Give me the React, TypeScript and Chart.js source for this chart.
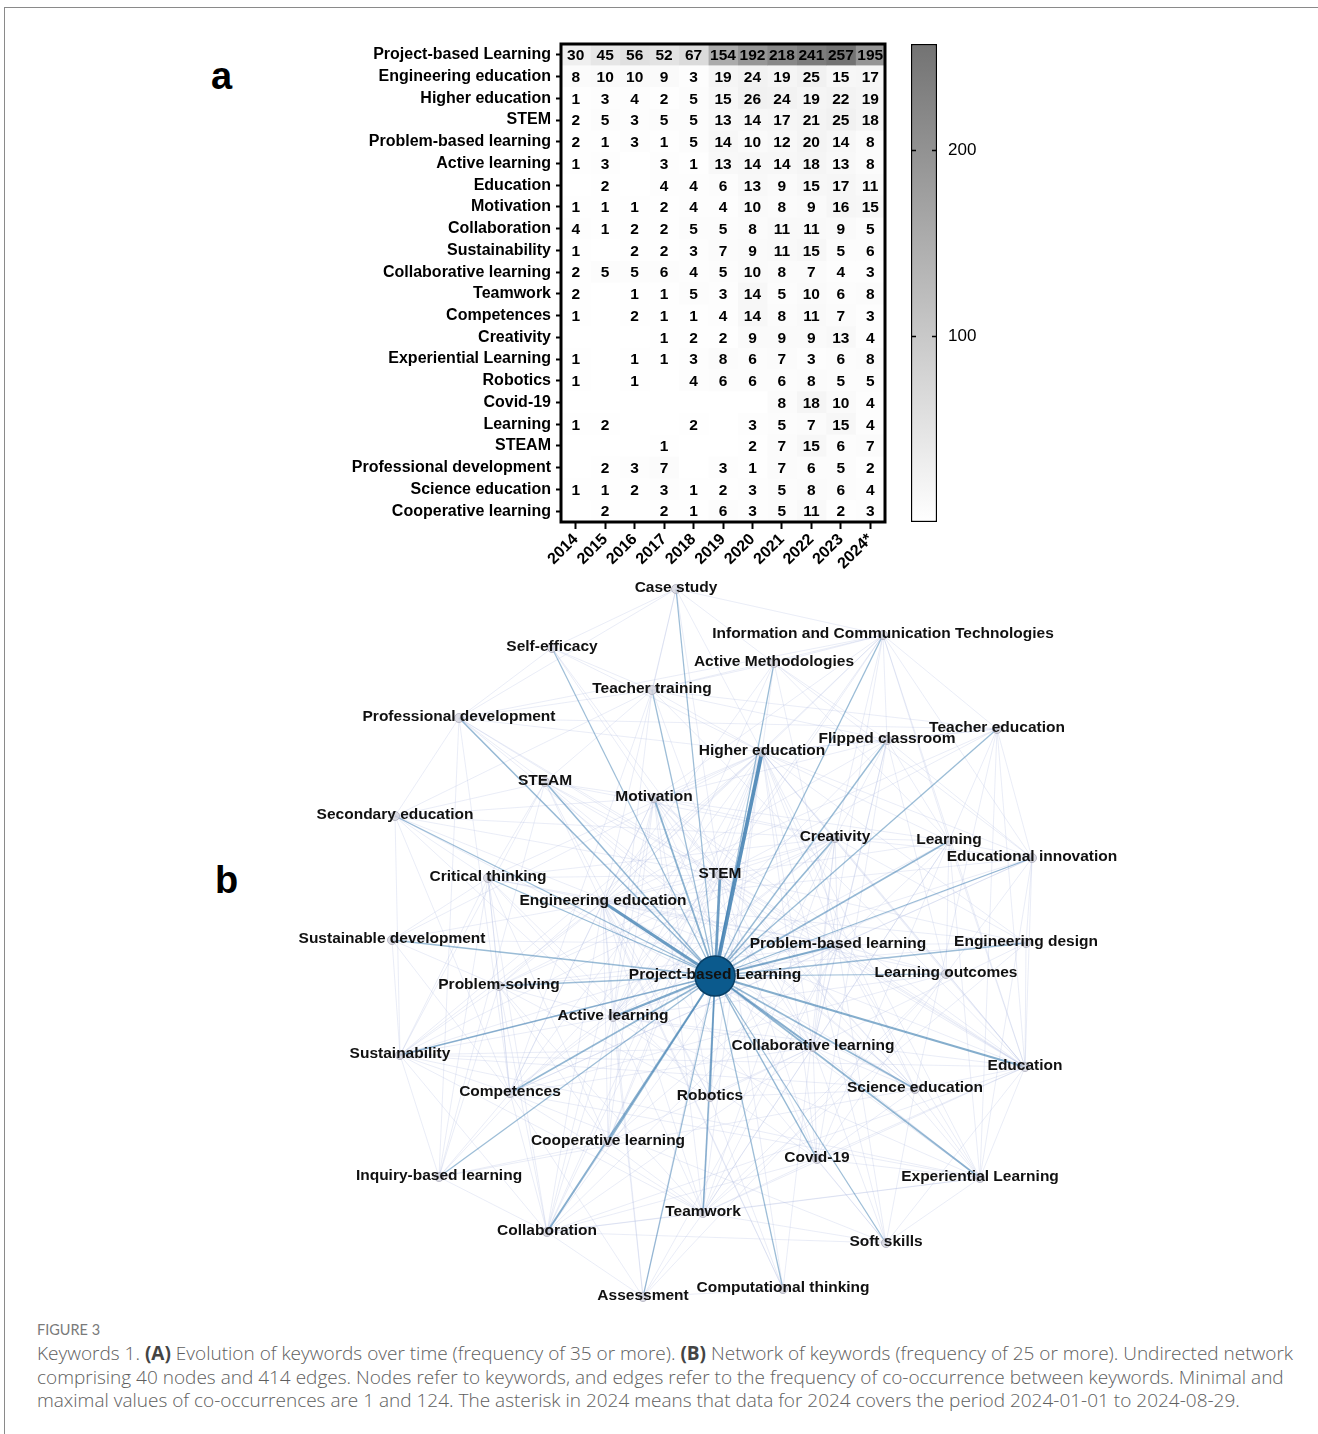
import React, { useEffect, useRef } from 'react';
import { Chart, registerables } from 'chart.js';

Chart.register(...registerables);

const FONT = '"Liberation Sans", Arial, Helvetica, sans-serif';

// ---------- Panel A: heatmap data ----------
const YEARS = ['2014', '2015', '2016', '2017', '2018', '2019', '2020', '2021', '2022', '2023', '2024*'];
const KEYWORDS = [
  'Project-based Learning', 'Engineering education', 'Higher education', 'STEM',
  'Problem-based learning', 'Active learning', 'Education', 'Motivation', 'Collaboration',
  'Sustainability', 'Collaborative learning', 'Teamwork', 'Competences', 'Creativity',
  'Experiential Learning', 'Robotics', 'Covid-19', 'Learning', 'STEAM',
  'Professional development', 'Science education', 'Cooperative learning',
];
const _ = null;
const HEAT_ROWS: (number | null)[][] = [
  [30, 45, 56, 52, 67, 154, 192, 218, 241, 257, 195],
  [8, 10, 10, 9, 3, 19, 24, 19, 25, 15, 17],
  [1, 3, 4, 2, 5, 15, 26, 24, 19, 22, 19],
  [2, 5, 3, 5, 5, 13, 14, 17, 21, 25, 18],
  [2, 1, 3, 1, 5, 14, 10, 12, 20, 14, 8],
  [1, 3, _, 3, 1, 13, 14, 14, 18, 13, 8],
  [_, 2, _, 4, 4, 6, 13, 9, 15, 17, 11],
  [1, 1, 1, 2, 4, 4, 10, 8, 9, 16, 15],
  [4, 1, 2, 2, 5, 5, 8, 11, 11, 9, 5],
  [1, _, 2, 2, 3, 7, 9, 11, 15, 5, 6],
  [2, 5, 5, 6, 4, 5, 10, 8, 7, 4, 3],
  [2, _, 1, 1, 5, 3, 14, 5, 10, 6, 8],
  [1, _, 2, 1, 1, 4, 14, 8, 11, 7, 3],
  [_, _, _, 1, 2, 2, 9, 9, 9, 13, 4],
  [1, _, 1, 1, 3, 8, 6, 7, 3, 6, 8],
  [1, _, 1, _, 4, 6, 6, 6, 8, 5, 5],
  [_, _, _, _, _, _, _, 8, 18, 10, 4],
  [1, 2, _, _, 2, _, 3, 5, 7, 15, 4],
  [_, _, _, 1, _, _, 2, 7, 15, 6, 7],
  [_, 2, 3, 7, _, 3, 1, 7, 6, 5, 2],
  [1, 1, 2, 3, 1, 2, 3, 5, 8, 6, 4],
  [_, 2, _, 2, 1, 6, 3, 5, 11, 2, 3],
];
const CB_MIN = 0;
const CB_MAX = 257;
const CB_TICKS = [100, 200];

// ---------- Panel B: network data ----------
const NODE_KEYS = ['cs', 'se', 'ict', 'am', 'tt', 'pd', 'he', 'fc', 'te', 'steam', 'mot', 'sec', 'cre', 'lea', 'ei', 'stem', 'ct', 'ee', 'sd', 'pbl2', 'ed', 'pbl', 'ps', 'lo', 'al', 'cl', 'sus', 'edu', 'sci', 'comp', 'rob', 'coop', 'cov', 'ibl', 'exp', 'tw', 'col', 'ss', 'as', 'cmp'];
const NODE_LABELS = ['Case study', 'Self-efficacy', 'Information and Communication Technologies', 'Active Methodologies', 'Teacher training', 'Professional development', 'Higher education', 'Flipped classroom', 'Teacher education', 'STEAM', 'Motivation', 'Secondary education', 'Creativity', 'Learning', 'Educational innovation', 'STEM', 'Critical thinking', 'Engineering education', 'Sustainable development', 'Problem-based learning', 'Engineering design', 'Project-based Learning', 'Problem-solving', 'Learning outcomes', 'Active learning', 'Collaborative learning', 'Sustainability', 'Education', 'Science education', 'Competences', 'Robotics', 'Cooperative learning', 'Covid-19', 'Inquiry-based learning', 'Experiential Learning', 'Teamwork', 'Collaboration', 'Soft skills', 'Assessment', 'Computational thinking'];
const NODE_X = [676, 552, 883, 774, 652, 459, 762, 887, 997, 545, 654, 395, 835, 949, 1032, 720, 488, 603, 392, 838, 1026, 715, 499, 946, 613, 813, 400, 1025, 915, 510, 710, 608, 817, 439, 980, 703, 547, 886, 643, 783];
const NODE_Y = [589, 648, 635, 663, 690, 718, 752, 740, 729, 782, 798, 816, 838, 841, 858, 875, 878, 902, 940, 945, 943, 976, 986, 974, 1017, 1047, 1055, 1067, 1089, 1093, 1097, 1142, 1159, 1177, 1178, 1213, 1232, 1243, 1297, 1289];
const HUB_KEY = 'pbl';
// co-occurrence with Project-based Learning (estimated), same order as NODE_KEYS
const HUB_WEIGHTS = [20, 18, 22, 22, 20, 30, 124, 25, 22, 30, 45, 20, 35, 30, 22, 85, 22, 95, 22, 55, 20, 0, 20, 18, 65, 50, 40, 55, 30, 35, 30, 35, 30, 20, 35, 35, 50, 20, 18, 20];
// weaker links between other keywords
const OTHER_LINKS: [string, string[]][] = [
  ['he', ['stem', 'ee', 'al', 'pbl2', 'cl', 'mot', 'comp', 'fc', 'am', 'tt', 'ict', 'cs', 'se', 'cre', 'lea', 'ei', 'tw', 'col', 'sus', 'edu', 'cov', 'exp', 'lo', 'ps', 'ct', 'sd', 'coop', 'sci', 'te', 'pd', 'as', 'ss', 'ed', 'rob']],
  ['ee', ['stem', 'al', 'pbl2', 'cl', 'mot', 'comp', 'ed', 'lo', 'tw', 'col', 'sus', 'sd', 'ct', 'ps', 'cre', 'exp', 'cmp', 'rob', 'sci', 'cs', 'as', 'ss', 'ei', 'fc', 'am', 'te', 'ict', 'coop']],
  ['stem', ['steam', 'rob', 'cmp', 'sci', 'edu', 'ed', 'cre', 'mot', 'tt', 'pd', 'sec', 'te', 'ict', 'ibl', 'ct', 'ps', 'cl', 'al', 'col', 'tw', 'coop', 'pbl2', 'lea', 'cov', 'exp', 'se', 'cs']],
  ['al', ['pbl2', 'cl', 'mot', 'comp', 'fc', 'am', 'cre', 'lea', 'ei', 'tw', 'col', 'sus', 'coop', 'cov', 'exp', 'ps', 'ct', 'lo', 'ict', 'tt', 'edu', 'as', 'sec']],
  ['pbl2', ['cl', 'mot', 'comp', 'cre', 'lea', 'tw', 'col', 'lo', 'exp', 'ed', 'sus', 'ps', 'ct', 'sd', 'sci', 'ei', 'coop', 'fc', 'am', 'ss', 'as', 'edu']],
  ['cl', ['coop', 'col', 'tw', 'mot', 'comp', 'cre', 'ict', 'fc', 'cov', 'exp', 'ss', 'lea', 'sci', 'sus', 'steam']],
  ['mot', ['cre', 'tw', 'col', 'comp', 'se', 'fc', 'lea', 'edu', 'coop', 'rob', 'steam', 'sci', 'cov', 'ict', 'sec']],
  ['edu', ['sci', 'steam', 'cre', 'tw', 'col', 'ict', 'sus', 'lea', 'exp', 'ss', 'sec', 'te', 'pd', 'tt', 'ei', 'cov', 'ed', 'lo']],
  ['col', ['tw', 'comp', 'coop', 'cre', 'sus', 'ss', 'cov', 'exp', 'ps', 'ct', 'ibl', 'as']],
  ['sus', ['sd', 'comp', 'ps', 'ct', 'ibl', 'cre', 'sec', 'tw', 'exp', 'ei', 'steam', 'sci']],
  ['comp', ['ps', 'ct', 'sd', 'tw', 'cre', 'lo', 'ss', 'tt', 'pd', 'exp', 'ei', 'as', 'ibl', 'sec']],
  ['cre', ['ps', 'ct', 'rob', 'steam', 'tw', 'lea', 'ei', 'cmp', 'ict', 'fc', 'sec', 'ed']],
  ['rob', ['cmp', 'steam', 'sci', 'tw', 'ps', 'ed', 'ct']],
  ['steam', ['sci', 'cmp', 'ct', 'pd', 'sec', 'tt', 'ibl']],
  ['lea', ['ei', 'exp', 'tw', 'cov', 'lo', 'ict', 'fc', 'am', 'te']],
  ['tw', ['ss', 'exp', 'cov', 'ps', 'coop', 'lo', 'as', 'ed']],
  ['exp', ['sci', 'ss', 'cov', 'ei', 'te']],
  ['pd', ['tt', 'te', 'sec', 'se', 'cs', 'ict', 'ibl', 'sci']],
  ['tt', ['te', 'se', 'cs', 'ict', 'am', 'fc', 'sec']],
  ['fc', ['am', 'ict', 'cov', 'ei', 'te', 'lo']],
  ['ict', ['am', 'ei', 'te', 'cs']],
  ['ei', ['am', 'te', 'ed', 'lo']],
  ['sci', ['ibl', 'ss', 'cov', 'sec', 'te']],
  ['coop', ['ps', 'ibl', 'ct']],
  ['ps', ['ct', 'sd', 'ibl', 'ed']],
  ['ct', ['sd', 'sec', 'ibl']],
  ['cov', ['ss', 'lo']],
  ['cs', ['se', 'am']],
  ['as', ['lo', 'cmp']],
];
const MAX_COOC = 124;

// ---------- helpers ----------
const cellColor = (v: number | null) => {
  if (v == null) return '#ffffff';
  const g = Math.round(255 - (v / CB_MAX) * 140);
  return `rgb(${g},${g},${g})`;
};
const fixBox = (w?: number, h?: number) => (s: any) => {
  if (w !== undefined) s.width = w;
  if (h !== undefined) s.height = h;
  s.paddingLeft = 0;
  s.paddingRight = 0;
  s.paddingTop = 0;
  s.paddingBottom = 0;
};

function useChart(make: (c: HTMLCanvasElement) => Chart) {
  const ref = useRef<HTMLCanvasElement>(null);
  useEffect(() => {
    if (!ref.current) return;
    const chart = make(ref.current);
    return () => chart.destroy();
  }, []);
  return ref;
}

// ---------- Heatmap ----------
const HM_LEFT = 300, HM_TOP = 0, HM_W = 620, HM_H = 600;

function Heatmap() {
  const ref = useChart((canvas) => {
    const datasets = YEARS.map((yr, j) => ({
      label: yr,
      data: KEYWORDS.map(() => [j - 0.5, j + 0.5]),
      backgroundColor: HEAT_ROWS.map((r) => cellColor(r[j])),
      borderWidth: 0,
      barPercentage: 1,
      categoryPercentage: 1,
      grouped: false,
    }));
    const textPlugin = {
      id: 'cellText',
      afterDatasetsDraw(chart: any) {
        const ctx = chart.ctx;
        ctx.save();
        ctx.font = `bold 15.5px ${FONT}`;
        ctx.textAlign = 'center';
        ctx.textBaseline = 'middle';
        ctx.fillStyle = '#000';
        chart.data.datasets.forEach((_ds: any, j: number) => {
          const meta = chart.getDatasetMeta(j);
          meta.data.forEach((el: any, i: number) => {
            const v = HEAT_ROWS[i][j];
            if (v == null) return;
            const p = el.getProps(['x', 'y', 'base'], true);
            ctx.fillText(String(v), (p.x + p.base) / 2, p.y + 1);
          });
        });
        const a = chart.chartArea;
        ctx.lineWidth = 3;
        ctx.strokeStyle = '#000';
        ctx.strokeRect(a.left, a.top, a.right - a.left, a.bottom - a.top);
        ctx.restore();
      },
    };
    return new Chart(canvas, {
      type: 'bar',
      data: { labels: KEYWORDS, datasets: datasets as any },
      options: {
        indexAxis: 'y',
        responsive: false,
        animation: false,
        events: [],
        layout: { padding: { left: 0, right: 35, top: 44, bottom: 0 } },
        plugins: { legend: { display: false }, tooltip: { enabled: false } },
        scales: {
          x: {
            type: 'linear',
            min: -0.5,
            max: YEARS.length - 0.5,
            afterBuildTicks: (s: any) => { s.ticks = YEARS.map((_y, j) => ({ value: j })); },
            afterFit: fixBox(undefined, 78),
            ticks: {
              autoSkip: false,
              minRotation: 45,
              maxRotation: 45,
              padding: 1,
              color: '#000',
              font: { family: FONT, size: 16, weight: 'bold' },
              callback: (v: any) => YEARS[v as number],
            },
            grid: { drawOnChartArea: false, drawTicks: true, tickLength: 7, tickWidth: 2, tickColor: '#000', offset: false },
            border: { display: false },
          },
          y: {
            type: 'category',
            afterFit: fixBox(261, undefined),
            ticks: { autoSkip: false, padding: 5, color: '#000', font: { family: FONT, size: 16, weight: 'bold' } },
            grid: { drawOnChartArea: false, drawTicks: true, tickLength: 5, tickWidth: 2, tickColor: '#000', offset: false },
            border: { display: false },
          },
        },
      } as any,
      plugins: [textPlugin],
    });
  });
  return <canvas ref={ref} width={HM_W} height={HM_H} style={{ position: 'absolute', left: HM_LEFT, top: HM_TOP, width: HM_W, height: HM_H }} />;
}

// ---------- Colorbar ----------
const CB_LEFT = 900, CB_W = 110, CB_H = 600;

function Colorbar() {
  const ref = useChart((canvas) => {
    const tickPlugin = {
      id: 'cbTicks',
      afterDatasetsDraw(chart: any) {
        const ctx = chart.ctx;
        const a = chart.chartArea;
        const ys = chart.scales.y;
        ctx.save();
        ctx.strokeStyle = '#000';
        ctx.lineWidth = 1.5;
        CB_TICKS.forEach((v) => {
          const y = Math.round(ys.getPixelForValue(v)) + 0.5;
          ctx.beginPath();
          ctx.moveTo(a.left, y); ctx.lineTo(a.left + 5, y);
          ctx.moveTo(a.right - 5, y); ctx.lineTo(a.right, y);
          ctx.stroke();
        });
        ctx.restore();
      },
    };
    return new Chart(canvas, {
      type: 'bar',
      data: {
        labels: [''],
        datasets: [{
          data: [[CB_MIN, CB_MAX]],
          backgroundColor: (c: any) => {
            const ca = c.chart.chartArea;
            if (!ca) return '#fff';
            const ys = c.chart.scales.y;
            const g = c.chart.ctx.createLinearGradient(0, ys.getPixelForValue(CB_MIN), 0, ys.getPixelForValue(CB_MAX));
            g.addColorStop(0, cellColor(CB_MIN));
            g.addColorStop(1, cellColor(CB_MAX));
            return g;
          },
          borderColor: '#000',
          borderWidth: 1.5,
          borderSkipped: false,
          barPercentage: 1,
          categoryPercentage: 1,
        }] as any,
      },
      options: {
        responsive: false,
        animation: false,
        events: [],
        layout: { padding: { left: 11, right: 0, top: 44, bottom: 78 } },
        plugins: { legend: { display: false }, tooltip: { enabled: false } },
        scales: {
          x: { display: false },
          y: {
            position: 'right',
            min: CB_MIN,
            max: CB_MAX,
            afterBuildTicks: (s: any) => { s.ticks = CB_TICKS.map((v) => ({ value: v })); },
            afterFit: fixBox(73, undefined),
            ticks: { padding: 11, color: '#000', font: { family: FONT, size: 17 } },
            grid: { drawOnChartArea: false, drawTicks: false },
            border: { display: false },
          },
        },
      } as any,
      plugins: [tickPlugin],
    });
  });
  return <canvas ref={ref} width={CB_W} height={CB_H} style={{ position: 'absolute', left: CB_LEFT, top: 0, width: CB_W, height: CB_H }} />;
}

// ---------- Network ----------
const NW_LEFT = 270, NW_TOP = 565, NW_W = 880, NW_H = 750;

function Network() {
  const ref = useChart((canvas) => {
    const idx = (k: string) => NODE_KEYS.indexOf(k);
    const hub = idx(HUB_KEY);
    const pt = (i: number) => ({ x: NODE_X[i], y: NODE_Y[i] });

    const nodeDs = {
      label: 'nodes',
      order: 0,
      data: NODE_KEYS.map((_k, i) => pt(i)),
      pointRadius: NODE_KEYS.map((k) => (k === HUB_KEY ? 20 : 4.5)),
      pointBackgroundColor: NODE_KEYS.map((k) => (k === HUB_KEY ? '#0b5a8d' : 'rgba(214,214,222,0.8)')),
      pointBorderColor: NODE_KEYS.map((k) => (k === HUB_KEY ? '#083f66' : 'rgba(175,175,190,0.85)')),
      pointBorderWidth: NODE_KEYS.map((k) => (k === HUB_KEY ? 1.5 : 1)),
      showLine: false,
    };
    const hubDs = NODE_KEYS.map((k, i) => ({ k, i })).filter((n) => n.i !== hub).map(({ i }) => {
      const w = HUB_WEIGHTS[i] / MAX_COOC;
      return {
        label: 'hub-' + NODE_KEYS[i],
        order: 1,
        data: [pt(hub), pt(i)],
        showLine: true,
        borderColor: `rgba(62,126,176,${(0.45 + 0.4 * w).toFixed(2)})`,
        borderWidth: 0.8 + 2.9 * w,
        pointRadius: 0,
      };
    });
    const seen = new Set<string>();
    const otherDs: any[] = [];
    OTHER_LINKS.forEach(([a, list]) => {
      list.forEach((b) => {
        const key = [a, b].sort().join('|');
        if (a === b || seen.has(key)) return;
        seen.add(key);
        otherDs.push({
          label: key,
          order: 2,
          data: [pt(idx(a)), pt(idx(b))],
          showLine: true,
          borderColor: 'rgba(170,184,222,0.25)',
          borderWidth: 1,
          pointRadius: 0,
        });
      });
    });

    const labelPlugin = {
      id: 'nodeLabels',
      afterDatasetsDraw(chart: any) {
        const ctx = chart.ctx;
        const xs = chart.scales.x, ys = chart.scales.y;
        ctx.save();
        ctx.font = `bold 15.5px ${FONT}`;
        ctx.textAlign = 'center';
        ctx.textBaseline = 'middle';
        ctx.fillStyle = '#111';
        NODE_LABELS.forEach((name, i) => {
          ctx.fillText(name, xs.getPixelForValue(NODE_X[i]), ys.getPixelForValue(NODE_Y[i]) - 1);
        });
        ctx.restore();
      },
    };

    return new Chart(canvas, {
      type: 'scatter',
      data: { datasets: [nodeDs, ...hubDs, ...otherDs] as any },
      options: {
        responsive: false,
        animation: false,
        events: [],
        layout: { padding: 0, autoPadding: false },
        plugins: { legend: { display: false }, tooltip: { enabled: false } },
        scales: {
          x: { type: 'linear', display: false, min: NW_LEFT, max: NW_LEFT + NW_W },
          y: { type: 'linear', display: false, min: NW_TOP, max: NW_TOP + NW_H, reverse: true },
        },
      } as any,
      plugins: [labelPlugin],
    });
  });
  return <canvas ref={ref} width={NW_W} height={NW_H} style={{ position: 'absolute', left: NW_LEFT, top: NW_TOP, width: NW_W, height: NW_H }} />;
}

// ---------- App ----------
const CAP_FONT = '"Open Sans", Lato, sans-serif';
const capLine: React.CSSProperties = {
  position: 'absolute', left: 37, whiteSpace: 'nowrap', fontFamily: CAP_FONT,
  fontSize: 19, lineHeight: '24px', color: '#5e5e5e', fontWeight: 300,
};

export default function App() {
  return (
    <div style={{ position: 'absolute', left: 0, top: 0, width: 1318, height: 1434, overflow: 'hidden', background: '#fff' }}>
      <div style={{ position: 'absolute', left: 4, top: 7, width: 1314, height: 1427, borderTop: '1px solid #8a8a8a', borderLeft: '1px solid #8a8a8a' }} />
      <div style={{ position: 'absolute', left: 211, top: 57, fontFamily: FONT, fontWeight: 'bold', fontSize: 38, lineHeight: '38px', color: '#000' }}>a</div>
      <div style={{ position: 'absolute', left: 215, top: 861, fontFamily: FONT, fontWeight: 'bold', fontSize: 38, lineHeight: '38px', color: '#000' }}>b</div>
      <Heatmap />
      <Colorbar />
      <Network />
      <div style={{ ...capLine, top: 1320, fontSize: 14.5, lineHeight: '20px', color: '#7a7a7a', fontFamily: 'Lato, sans-serif', fontWeight: 400 }}>FIGURE 3</div>
      <div style={{ ...capLine, top: 1341 }}>
        Keywords 1. <b style={{ color: '#444', fontWeight: 700 }}>(A)</b> Evolution of keywords over time (frequency of 35 or more). <b style={{ color: '#444', fontWeight: 700 }}>(B)</b> Network of keywords (frequency of 25 or more). Undirected network
      </div>
      <div style={{ ...capLine, top: 1365 }}>
        comprising 40 nodes and 414 edges. Nodes refer to keywords, and edges refer to the frequency of co-occurrence between keywords. Minimal and
      </div>
      <div style={{ ...capLine, top: 1388 }}>
        maximal values of co-occurrences are 1 and 124. The asterisk in 2024 means that data for 2024 covers the period 2024-01-01 to 2024-08-29.
      </div>
    </div>
  );
}
